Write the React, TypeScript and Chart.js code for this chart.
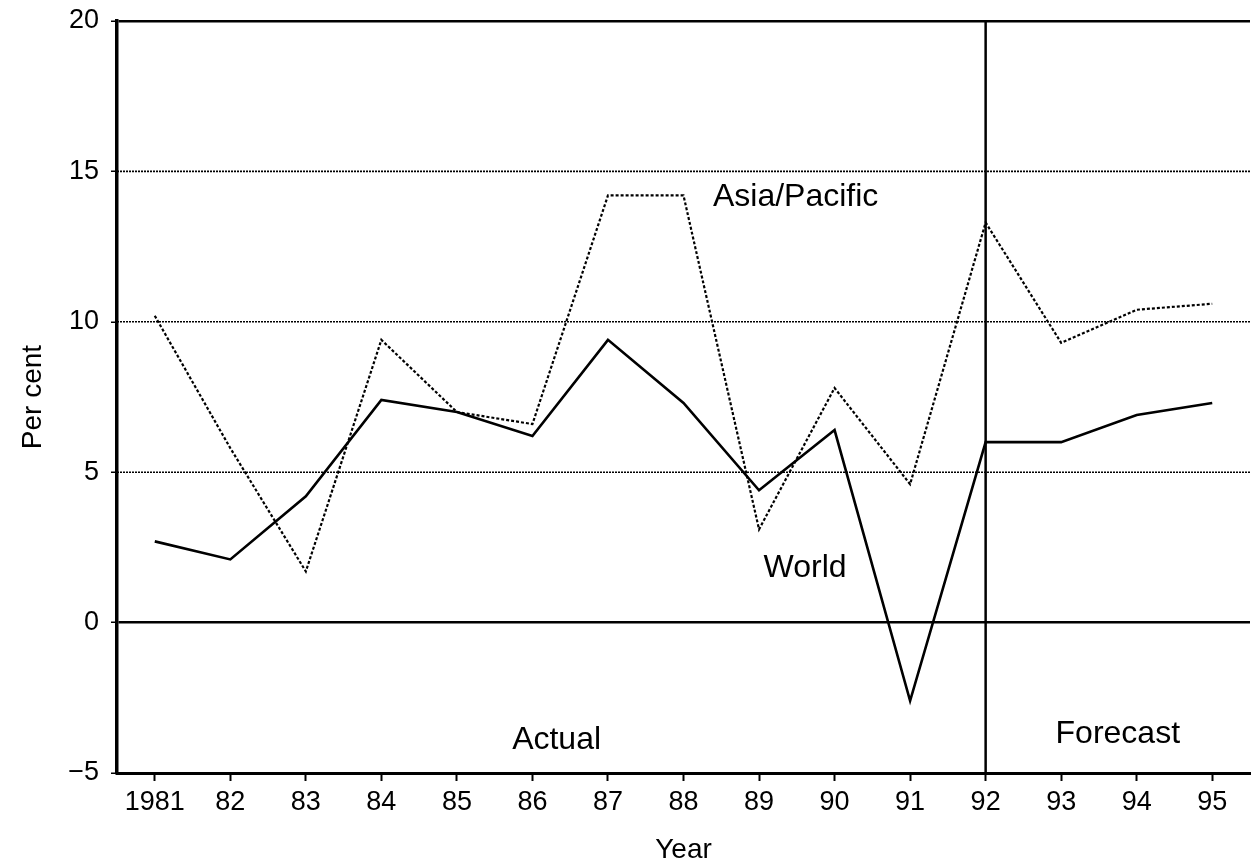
import React, { useEffect, useRef } from "react";
import { Chart, registerables } from "chart.js";

Chart.register(...registerables);

const years = ["1981", "82", "83", "84", "85", "86", "87", "88", "89", "90", "91", "92", "93", "94", "95"];
const world = [2.7, 2.1, 4.2, 7.4, 7.0, 6.2, 9.4, 7.3, 4.4, 6.4, -2.6, 6.0, 6.0, 6.9, 7.3];
const asiaPacific = [10.2, 5.8, 1.7, 9.4, 7.0, 6.6, 14.2, 14.2, 3.1, 7.8, 4.6, 13.3, 9.3, 10.4, 10.6];

const yMin = -5;
const yMax = 20;
const yStep = 5;
const forecastStartIndex = 11;

// annotation text anchored in data coordinates: [text, categoryIndex, value, align]
const annotations: [string, number, number, CanvasTextAlign][] = [
  ["Asia/Pacific", 7.39, 14.15, "left"],
  ["World", 8.06, 1.8, "left"],
  ["Actual", 5.32, -3.9, "center"],
  ["Forecast", 12.75, -3.7, "center"],
];

const FONT = "'Liberation Sans', Arial, sans-serif";

const overlayPlugin = {
  id: "overlay",
  beforeDatasetsDraw(chart: any) {
    const { ctx, chartArea, scales } = chart;
    const y = scales.y;
    ctx.save();
    ctx.strokeStyle = "#000";
    ctx.lineWidth = 1.6;
    ctx.setLineDash([2, 1]);
    y.ticks.forEach((t: any) => {
      if (t.value === 0 || t.value === yMax || t.value === yMin) return;
      const py = y.getPixelForValue(t.value);
      ctx.beginPath();
      ctx.moveTo(chartArea.left, py);
      ctx.lineTo(chartArea.right, py);
      ctx.stroke();
    });
    ctx.restore();
  },
  afterDatasetsDraw(chart: any) {
    const { ctx, chartArea, scales } = chart;
    const x = scales.x;
    const y = scales.y;
    ctx.save();
    // Actual / Forecast divider
    const px = x.getPixelForValue(forecastStartIndex);
    ctx.strokeStyle = "#000";
    ctx.lineWidth = 2.5;
    ctx.beginPath();
    ctx.moveTo(px, chartArea.top);
    ctx.lineTo(px, chartArea.bottom);
    ctx.stroke();
    // labels
    ctx.fillStyle = "#000";
    ctx.font = `32px ${FONT}`;
    ctx.textBaseline = "middle";
    annotations.forEach(([text, idx, val, align]) => {
      ctx.textAlign = align;
      ctx.fillText(text, x.getPixelForValue(idx), y.getPixelForValue(val));
    });
    ctx.restore();
  },
};

export default function App() {
  const canvasRef = useRef<HTMLCanvasElement | null>(null);

  useEffect(() => {
    document.body.style.margin = "0";
    const canvas = canvasRef.current;
    if (!canvas) return;
    const chart = new Chart(canvas, {
      type: "line",
      data: {
        labels: years,
        datasets: [
          {
            label: "World",
            data: world,
            borderColor: "#000",
            borderWidth: 2.6,
            pointRadius: 0,
            tension: 0,
          },
          {
            label: "Asia/Pacific",
            data: asiaPacific,
            borderColor: "#000",
            borderWidth: 2.2,
            borderDash: [3, 2],
            pointRadius: 0,
            tension: 0,
          },
        ],
      },
      options: {
        responsive: false,
        animation: false,
        devicePixelRatio: 1,
        layout: { padding: { top: 21, right: 3, left: 0, bottom: 0 } },
        plugins: {
          legend: { display: false },
          tooltip: { enabled: false },
          title: { display: false },
        },
        scales: {
          x: {
            type: "category",
            offset: true,
            grid: {
              drawOnChartArea: false,
              drawTicks: true,
              tickLength: 8,
              tickColor: "#000",
              tickWidth: 2,
              offset: false,
            },
            border: { display: true, color: "#000", width: 3 },
            ticks: {
              color: "#000",
              font: { family: FONT, size: 27 },
              padding: 5,
              maxRotation: 0,
              autoSkip: false,
            },
            title: {
              display: true,
              text: "Year",
              color: "#000",
              font: { family: FONT, size: 28 },
              padding: { top: 0, bottom: 0 },
            },
            afterFit(scale: any) {
              scale.height = 94;
              scale.paddingLeft = 0;
              scale.paddingRight = 0;
            },
          },
          y: {
            min: yMin,
            max: yMax,
            ticks: {
              stepSize: yStep,
              color: "#000",
              font: { family: FONT, size: 27 },
              padding: 12,
              callback: (v: any) => String(v).replace("-", "\u2212"),
            },
            grid: {
              color: (c: any) =>
                c.tick && (c.tick.value === 0 || c.tick.value === yMax) ? "#000" : "rgba(0,0,0,0)",
              lineWidth: 2.5,
              drawTicks: true,
              tickLength: 6,
              tickColor: "#000",
              tickWidth: 1.5,
            },
            border: { display: true, color: "#000", width: 3.5 },
            title: {
              display: true,
              text: "Per cent",
              color: "#000",
              font: { family: FONT, size: 28 },
              padding: { top: 16, bottom: 0 },
            },
            afterFit(scale: any) {
              scale.width = 117;
              scale.paddingTop = 0;
              scale.paddingBottom = 0;
            },
          },
        },
      },
      plugins: [overlayPlugin],
    });
    return () => chart.destroy();
  }, []);

  return (
    <div style={{ width: 1253, height: 867, background: "#fff" }}>
      <canvas ref={canvasRef} width={1253} height={867} style={{ display: "block" }} />
    </div>
  );
}
